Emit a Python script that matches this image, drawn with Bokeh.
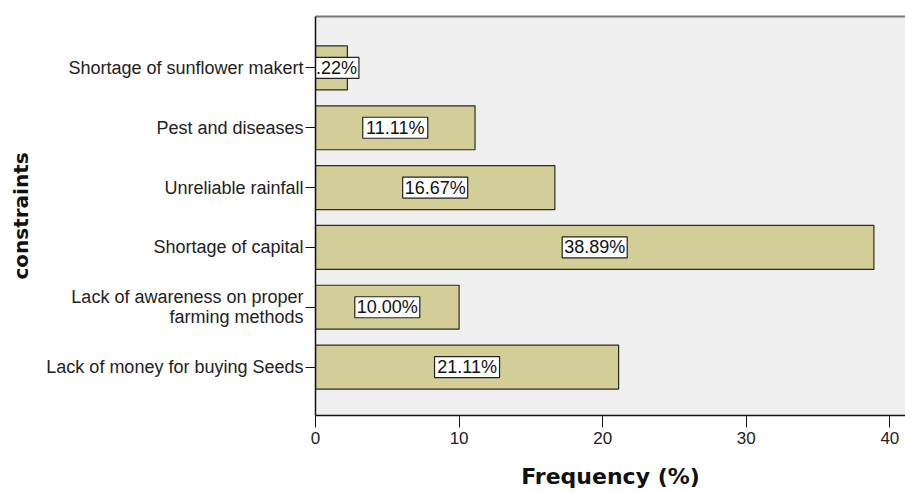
from bokeh.plotting import figure
from bokeh.models import (ColumnDataSource, Range1d, FixedTicker, LinearAxis)
from bokeh.core.properties import value
from bokeh.embed import file_html
from bokeh.resources import INLINE

# Constraints reported by sunflower farmers, bottom to top
constraints = [
    "Lack of money for buying Seeds",
    "Lack of awareness on proper\nfarming methods",
    "Shortage of capital",
    "Unreliable rainfall",
    "Pest and diseases",
    "Shortage of sunflower makert",
]
frequency = [21.11, 10.00, 38.89, 16.67, 11.11, 2.22]
x_ticks = [0, 10, 20, 30, 40]

positions = list(range(len(constraints)))
labels = [f"{v:.2f}%" for v in frequency]


def box_width(s):
    # rough text width of a value label at 18px, plus padding
    w = 0
    for ch in s:
        w += 16 if ch == "%" else (5 if ch == "." else 10)
    return w + 4


src = ColumnDataSource(dict(
    y=positions,
    freq=frequency,
    mid=[v / 2 for v in frequency],
    label=labels,
    box_w=[box_width(s) for s in labels],
))

p = figure(
    width=905, height=492,
    x_range=Range1d(0, 41.09),
    y_range=Range1d(-0.81, 5.86),
    output_backend="svg", toolbar_location=None,
    min_border_left=315, min_border_top=16, min_border_right=0,
    min_border_bottom=77,
    background_fill_color="#efefef",
    border_fill_color="white",
    outline_line_color=None,
)
p.grid.visible = False

# bars
p.hbar(y="y", right="freq", left=0, height=0.735, source=src,
       fill_color="#d3ce97", line_color="#2a2a2a", line_width=1.2)

# value labels in white boxes at bar centres
p.rect(x="mid", y="y", width="box_w", height=21,
       width_units="screen", height_units="screen", source=src,
       fill_color="white", line_color="#222222", line_width=1.2)
p.text(x="mid", y="y", text="label", source=src,
       text_align="center", text_baseline="middle",
       text_font=value("Liberation Sans"), text_font_size="18px",
       text_color="#111111")

# x axis
xa = p.xaxis[0]
xa.ticker = FixedTicker(ticks=x_ticks)
xa.axis_label = "Frequency (%)"
xa.axis_label_text_font = "DejaVu Sans"
xa.axis_label_text_font_style = "bold"
xa.axis_label_text_font_size = "22px"
xa.axis_label_text_color = "#111111"
xa.axis_label_standoff = 17
xa.major_label_text_font = "Liberation Sans"
xa.major_label_text_font_size = "17px"
xa.major_label_text_color = "#222222"
xa.major_label_standoff = 4
xa.major_tick_in = 0
xa.major_tick_out = 12
xa.minor_tick_line_color = None
xa.axis_line_color = "#111111"
xa.major_tick_line_color = "#111111"
xa.axis_line_width = 1.5

# y axis with category names
ya = p.yaxis[0]
ya.ticker = FixedTicker(ticks=positions)
ya.major_label_overrides = {i: c for i, c in zip(positions, constraints)}
ya.axis_label = "constraints"
ya.axis_label_text_font = "DejaVu Sans"
ya.axis_label_text_font_style = "bold"
ya.axis_label_text_font_size = "20px"
ya.axis_label_text_color = "#111111"
ya.axis_label_standoff = 10
ya.major_label_text_font = "Liberation Sans"
ya.major_label_text_font_size = "18px"
ya.major_label_text_line_height = 1.0
ya.major_label_text_color = "#222222"
ya.major_label_standoff = 2
ya.major_tick_in = 0
ya.major_tick_out = 10
ya.minor_tick_line_color = None
ya.axis_line_color = "#111111"
ya.major_tick_line_color = "#111111"
ya.axis_line_width = 1.5

# top frame edge
top = LinearAxis(ticker=FixedTicker(ticks=[]), axis_line_color="#777777",
                 axis_line_width=2, major_tick_line_color=None,
                 minor_tick_line_color=None, major_label_text_font_size="0px",
                 major_label_standoff=0)
p.add_layout(top, "above")

open("out.html", "w").write(file_html(p, INLINE))
